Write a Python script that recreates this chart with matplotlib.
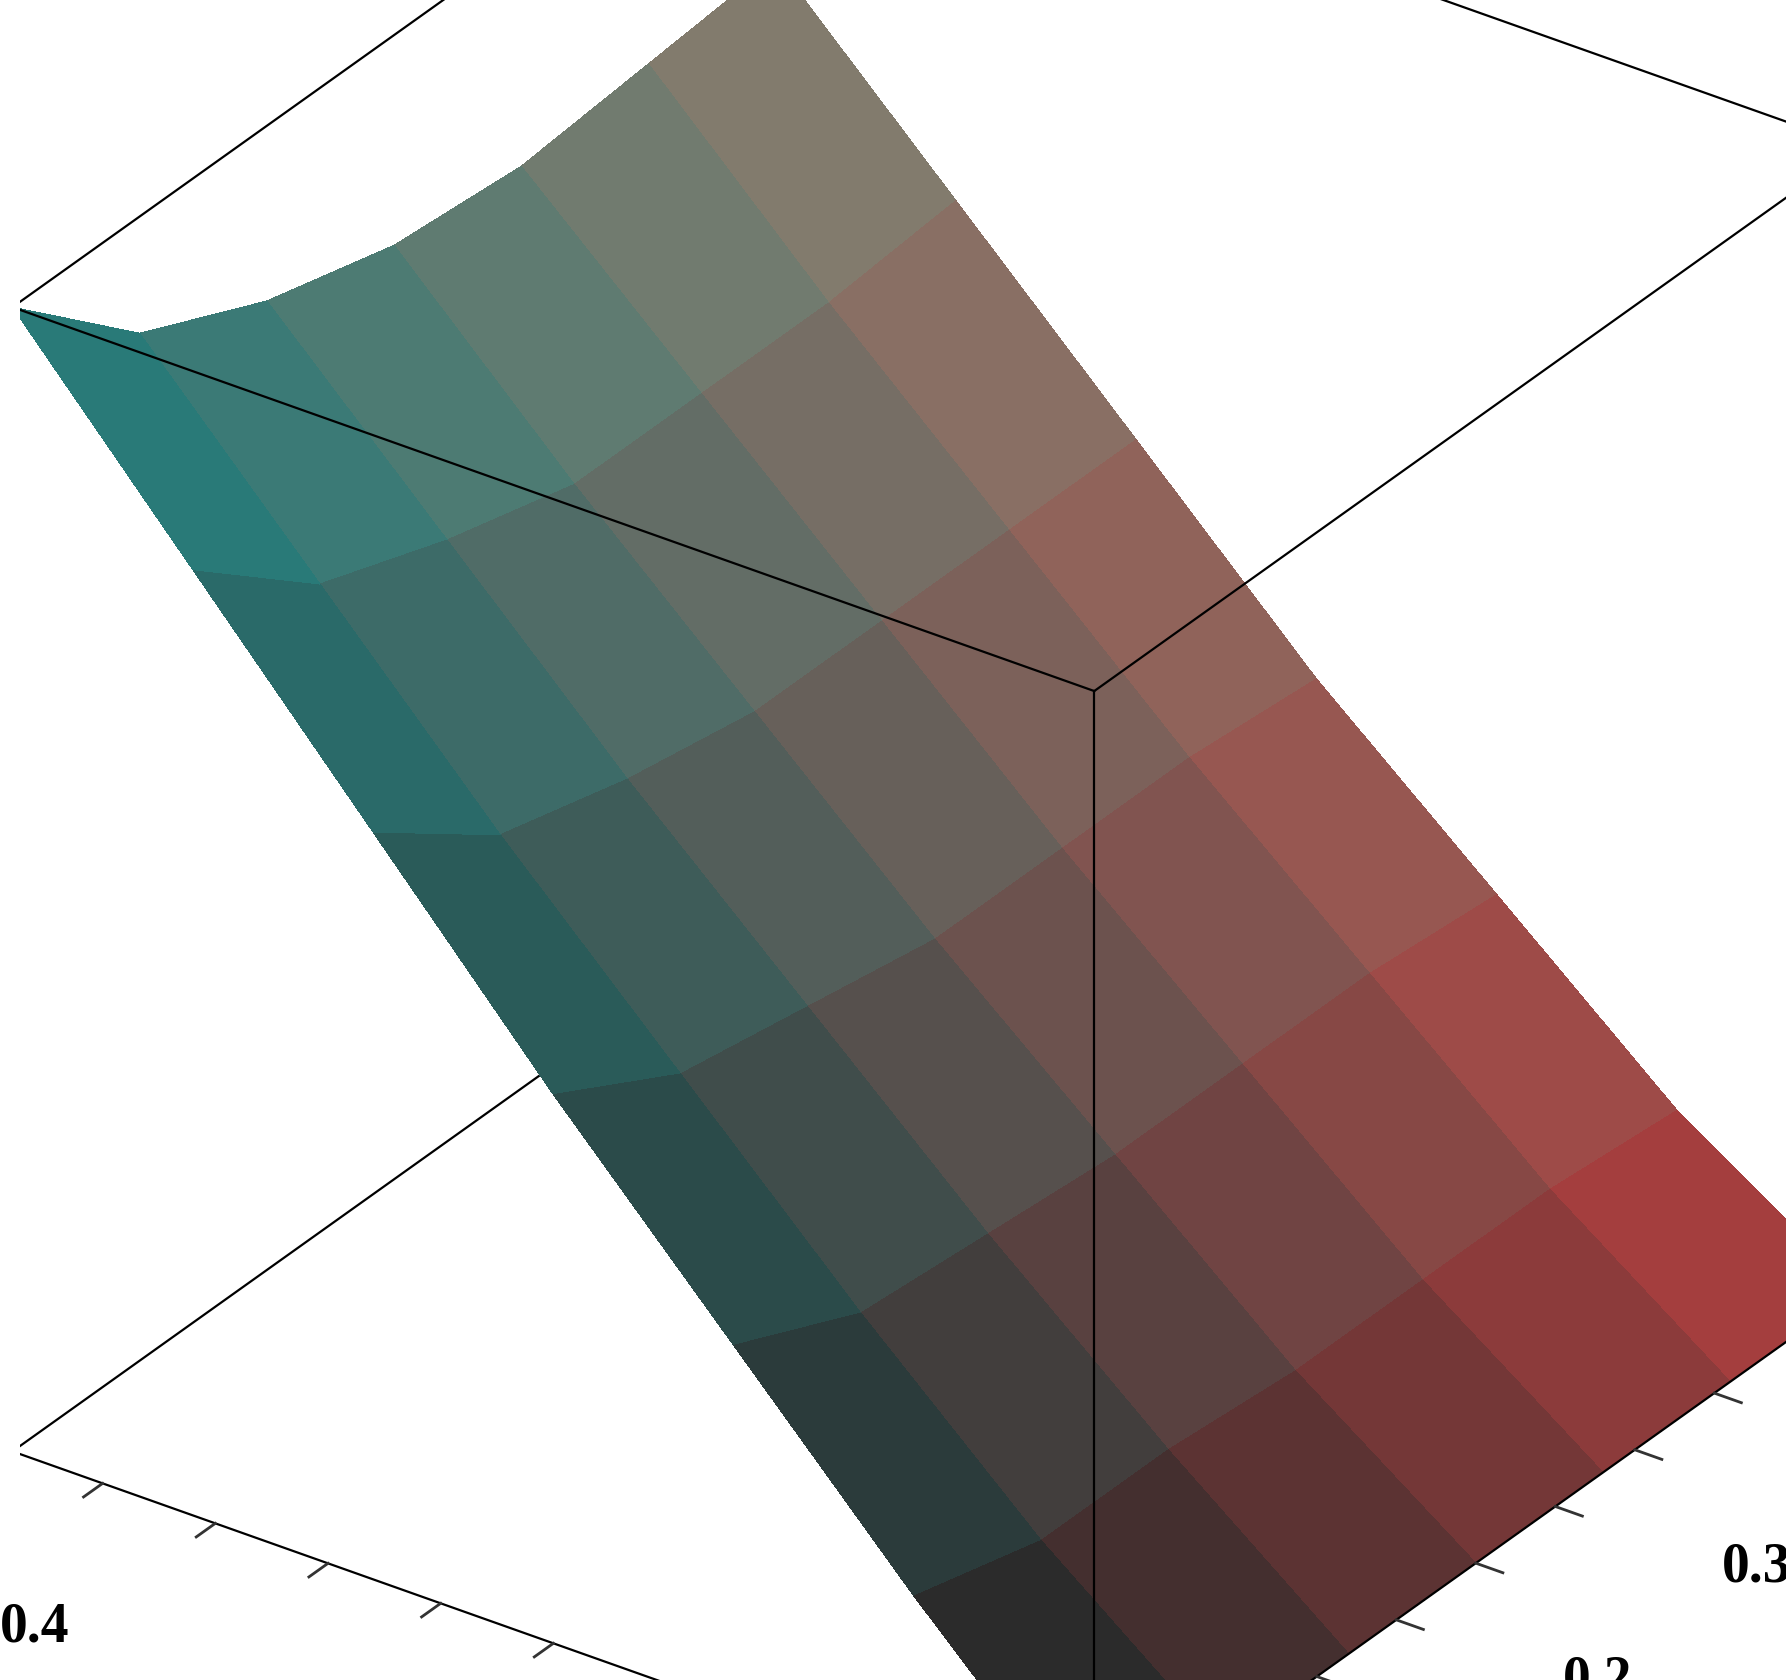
import numpy as np
import matplotlib

matplotlib.use("Agg")
import matplotlib.pyplot as plt

a1_vals = [0.01, 0.09, 0.17, 0.25, 0.33, 0.41, 0.49]
a2_vals = [0.01, 0.09, 0.17, 0.25, 0.33, 0.41, 0.49]
# rows: a2, columns: a1
D_vals = [
    [1.01, 1.01, 1.01, 1.01, 1.01, 1.01, 1.01],
    [1.16, 1.13, 1.13, 1.12, 1.12, 1.12, 1.11],
    [1.32, 1.27, 1.26, 1.25, 1.25, 1.25, 1.24],
    [1.48, 1.42, 1.40, 1.38, 1.38, 1.38, 1.37],
    [1.65, 1.57, 1.54, 1.52, 1.52, 1.52, 1.52],
    [1.82, 1.73, 1.69, 1.66, 1.66, 1.66, 1.67],
    [1.99, 1.89, 1.84, 1.81, 1.80, 1.81, 1.82],
]
a_ticks = [0.1, 0.2, 0.3, 0.4]
a_tick_labels = ["0.1", "0.2", "0.3", "0.4"]
d_ticks = [1.2, 1.4, 1.6, 1.8]
d_tick_labels = ["1.2", "1.4", "1.6", "1.8"]
lo, hi = 0.01, 0.49
zlo, zhi = 1.01, 1.99

A1, A2 = np.meshgrid(a1_vals, a2_vals)
Z = np.array(D_vals)

# corner colours: (a1 lo, a2 lo), (a1 hi, a2 lo), (a1 lo, a2 hi), (a1 hi, a2 hi)
c00 = np.array([0.17, 0.17, 0.17])
c10 = np.array([0.74, 0.26, 0.26])
c01 = np.array([0.16, 0.54, 0.53])
c11 = np.array([0.55, 0.53, 0.45])
u = (A1 - lo) / (hi - lo)
v = (A2 - lo) / (hi - lo)
u = u[..., None]
v = v[..., None]
cols = (c00 * (1 - u) * (1 - v) + c10 * u * (1 - v) + c01 * (1 - u) * v + c11 * u * v)
cols = np.clip(cols, 0, 1)

fig = plt.figure(figsize=(17.86, 16.8), dpi=100)
ax = fig.add_axes([0.0, -0.02, 1.02, 1.06], projection="3d", computed_zorder=False)
ax.set_proj_type("ortho")
ax.view_init(elev=30.2, azim=-144.8)
ax.set_box_aspect((1, 1, 1), zoom=1.25)
ax.set_xlim(lo, hi)
ax.set_ylim(lo, hi)
ax.set_zlim(zlo, zhi)
ax.set_axis_off()

kw = dict(color="black", lw=1.6)
# back edges (behind surface)
ax.plot([hi, hi], [hi, hi], [zlo, zhi], zorder=1, **kw)
ax.plot([hi, hi], [lo, hi], [zlo, zlo], zorder=1, **kw)
ax.plot([lo, hi], [hi, hi], [zlo, zlo], zorder=1, **kw)

ax.plot_surface(A1, A2, Z, facecolors=cols, rstride=1, cstride=1,
                shade=False, linewidth=0, antialiased=False, zorder=2)

# front / top edges
ax.plot([lo, hi], [lo, lo], [zlo, zlo], zorder=3, **kw)
ax.plot([lo, lo], [lo, hi], [zlo, zlo], zorder=3, **kw)
ax.plot([lo, lo], [lo, lo], [zlo, zhi], zorder=3, **kw)
ax.plot([lo, lo], [hi, hi], [zlo, zhi], zorder=3, color="#555555", lw=3)
ax.plot([hi, hi], [lo, lo], [zlo, zhi], zorder=3, **kw)
ax.plot([lo, hi], [lo, lo], [zhi, zhi], zorder=3, **kw)
ax.plot([lo, lo], [lo, hi], [zhi, zhi], zorder=3, **kw)
ax.plot([hi, hi], [lo, hi], [zhi, zhi], zorder=3, **kw)
ax.plot([lo, hi], [hi, hi], [zhi, zhi], zorder=3, **kw)

tk = dict(color="#333333", lw=2, zorder=3)
afont = dict(family="Liberation Serif", fontweight="bold", fontsize=40, zorder=4)

# a2 axis ticks (along a1 = lo), marks pointing towards -a1
for t in np.arange(0.05, 0.49, 0.05):
    ax.plot([lo, lo - 0.012], [t, t], [zlo, zlo], **tk)
for t in [lo, hi]:
    ax.plot([lo, lo - 0.018], [t, t], [zlo, zlo], **tk)
for t, s in zip([lo] + a_ticks + [hi], ["0.01"] + a_tick_labels + ["0.49"]):
    ax.text(lo - 0.085, t + 0.02, zlo - 0.02, s, ha="center", va="center", **afont)
ax.text(lo - 0.17, 0.24, zlo - 0.02, "a2", ha="center", va="center", style="italic", **afont)

# a1 axis ticks (along a2 = lo), marks pointing towards -a2
for t in np.arange(0.05, 0.49, 0.05):
    ax.plot([t, t], [lo, lo - 0.012], [zlo, zlo], **tk)
for t in [lo, hi]:
    ax.plot([t, t], [lo, lo - 0.018], [zlo, zlo], **tk)
for t, s in zip([lo] + a_ticks + [hi], ["0.01"] + a_tick_labels + ["0.49"]):
    ax.text(t + 0.02, lo - 0.075, zlo - 0.02, s, ha="center", va="center", **afont)
ax.text(0.25, lo - 0.17, zlo + 0.04, "a1", ha="center", va="center", style="italic", **afont)

# D axis ticks on the left vertical edge
dfont = dict(family="DejaVu Serif", fontweight="bold", fontsize=34, zorder=4)
for t in np.arange(1.1, 1.95, 0.1):
    ax.plot([lo, lo], [hi, hi + 0.02], [t, t - 0.014], **tk)
for t in [zlo, zhi] + d_ticks:
    ax.plot([lo, lo], [hi, hi + 0.04], [t, t - 0.028], **tk)
for t, s in zip([zlo] + d_ticks + [zhi], ["1.01"] + d_tick_labels + ["1.99"]):
    ax.text(lo, hi + 0.13, t - 0.09, s, ha="center", va="center", **dfont)
ax.text(lo, hi + 0.2, 1.50 - 0.135, "D", ha="center", va="center",
        family="DejaVu Sans", fontweight="bold", fontsize=36, zorder=4)

fig.savefig("out.png", dpi=100)
